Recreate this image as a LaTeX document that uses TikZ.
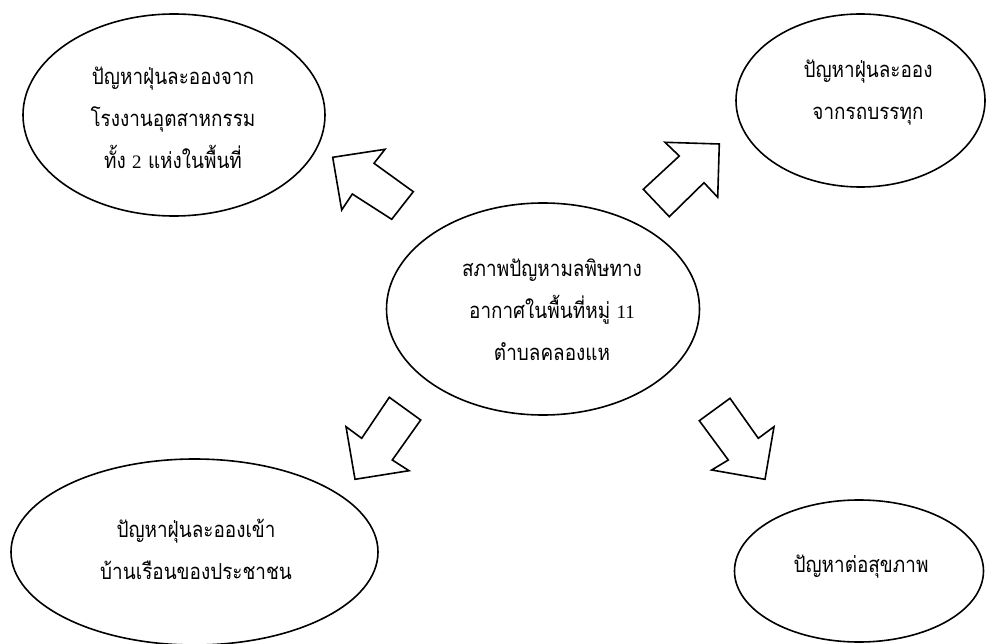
\documentclass[tikz,border=0pt]{standalone}
\usepackage{fontspec}
\newfontfamily\thaifont[Script=Thai, FakeStretch=0.86]{Loma}
\newfontfamily\digitfont{Liberation Serif}
\newcommand{\dg}[1]{{\digitfont\fontsize{19}{42}\selectfont #1}}
\usetikzlibrary{shapes.geometric}
\tikzset{
  bubble/.style={draw=black, line width=1.6pt, ellipse, inner sep=0pt},
  txt/.style={font=\thaifont\fontsize{22}{42}\selectfont, align=center, inner sep=0pt},
  blockarrow/.style={draw=black, line width=1.6pt, fill=white, line join=miter}
}
\begin{document}
\begin{tikzpicture}[x=1pt,y=-1pt]
\useasboundingbox (0,0) rectangle (990,644);
% ellipses
\node[bubble, minimum width=302pt, minimum height=202pt] (tl) at (174,115) {};
\node[bubble, minimum width=249pt, minimum height=173pt] (tr) at (860.5,100.5) {};
\node[bubble, minimum width=313pt, minimum height=212pt] (c) at (543,309) {};
\node[bubble, minimum width=367pt, minimum height=186pt] (bl) at (194.5,552) {};
\node[bubble, minimum width=249pt, minimum height=142pt] (br) at (859,571) {};
% texts
\node[txt] (ttl) at (173,118) {ปัญหาฝุ่นละอองจาก\\โรงงานอุตสาหกรรม\\ทั้ง \dg{2} แห่งในพื้นที่};
\node[txt] (ttr) at (868,93) {ปัญหาฝุ่นละออง\\จากรถบรรทุก};
\node[txt] (tc) at (552,310) {สภาพปัญหามลพิษทาง\\อากาศในพื้นที่หมู่ \dg{11}\\ตำบลคลองแห};
\node[txt] (tbl) at (196,549) {ปัญหาฝุ่นละอองเข้า\\บ้านเรือนของประชาชน};
\node[txt] (tbr) at (861,567) {ปัญหาต่อสุขภาพ};
% block arrows
\draw[blockarrow] (332.7,157.3) -- (385,149.3) -- (374,163.3) -- (413.3,191.7) -- (391.7,219.3) -- (352.3,194) -- (341.7,210) -- cycle;
\draw[blockarrow] (719.3,144) -- (717.7,197.3) -- (704,182.7) -- (669.3,216.7) -- (643.3,189.3) -- (679.3,156) -- (665,142.3) -- cycle;
\draw[blockarrow] (355,479.3) -- (346,426.7) -- (361.7,438.3) -- (389.3,397.3) -- (420.7,420) -- (392.3,460) -- (409,470.7) -- cycle;
\draw[blockarrow] (765,479.3) -- (711.7,470) -- (728.3,460) -- (699.3,420.7) -- (730,398.3) -- (758.3,438.3) -- (774,426.7) -- cycle;
\end{tikzpicture}
\end{document}
